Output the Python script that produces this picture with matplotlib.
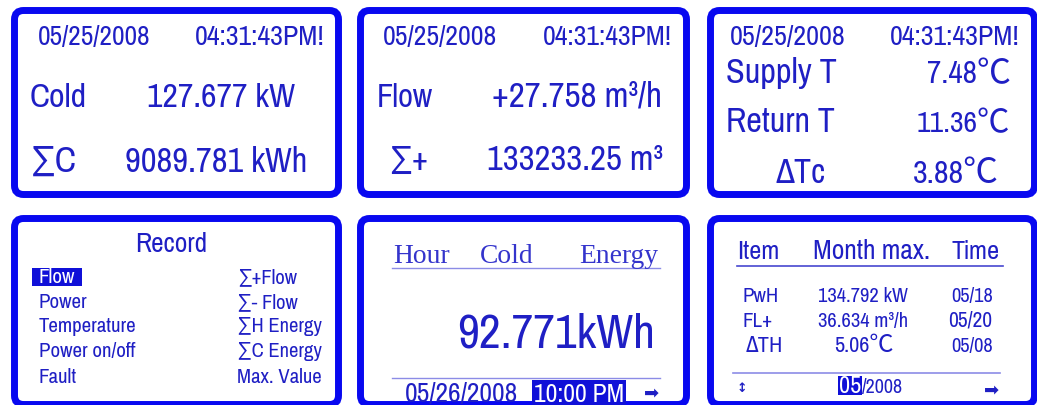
import matplotlib
matplotlib.use('Agg')
import matplotlib.pyplot as plt
from matplotlib.patches import FancyBboxPatch, Rectangle
from matplotlib import font_manager

# screen contents
stamp_date = '05/25/2008'
stamp_time = '04:31:43PM!'
p1_labels = ['Cold', '∑C']
p1_values = ['127.677 kW', '9089.781 kWh']
p2_labels = ['Flow', '∑+']
p2_values = ['+27.758 m³/h', '133233.25 m³']
p3_labels = ['Supply T', 'Return T', 'ΔTc']
p3_values = ['7.48℃', '11.36℃', '3.88℃']
record_title = 'Record'
record_left = ['Flow', 'Power', 'Temperature', 'Power on/off', 'Fault']
record_right = ['∑+Flow', '∑- Flow', '∑H Energy', '∑C Energy', 'Max. Value']
hour_head = ['Hour', 'Cold', 'Energy']
hour_value = '92.771kWh'
hour_date = '05/26/2008'
hour_time = '10:00 PM'
max_head = ['Item', 'Month max.', 'Time']
max_items = ['PwH', 'FL+', 'ΔTH']
max_values = ['134.792 kW', '36.634 m³/h', '5.06℃']
max_times = ['05/18', '05/20', '05/08']
max_month = '05'
max_year = '/2008'

BORDER = '#0808f0'
TEXT = '#1f1fc4'
LINE = '#8c8ce6'
HILITE = '#1010d8'

# narrow sans like the LCD font, if one is around
names = {f.name for f in font_manager.fontManager.ttflist}
sans_name = 'Liberation Sans'
for n in ['Liberation Sans Narrow', 'Arial Narrow', 'Pragati Narrow',
          'Roboto Condensed', 'Archivo Narrow', 'PT Sans Narrow']:
    if n in names:
        sans_name = n
        break
SANS = [sans_name, 'DejaVu Sans']
# degree-celsius sign: the CJK one is narrower than DejaVu's
DEG = [sans_name, 'Noto Sans CJK JP', 'DejaVu Sans']
SERIF = ['Liberation Serif', 'DejaVu Serif']

fig = plt.figure(figsize=(10.37, 4.05), dpi=100)
ax = fig.add_axes([0, 0, 1, 1])
ax.set_xlim(0, 1037)
ax.set_ylim(405, 0)
ax.axis('off')
r = fig.canvas.get_renderer()

cols = [(11, 342), (357, 690), (707, 1038)]
rows = [(7, 198), (215, 408)]
for (y0, y1) in rows:
    for (x0, x1) in cols:
        ax.add_patch(FancyBboxPatch((x0 + 3.5, y0 + 3.5), x1 - x0 - 7, y1 - y0 - 7,
                                    boxstyle='round,pad=0,rounding_size=9',
                                    lw=5, ec=BORDER, fc='white'))


def fitsize(s, x0, x1, family=SANS):
    t = ax.text(0, 0, s, family=family, fontsize=20)
    w = t.get_window_extent(r).width
    t.remove()
    return 20 * (x1 - x0) / w


def put(s, x0, x1, y, family=SANS, color=TEXT, size=None, part=None, **kw):
    # part: fit only this leading piece of the string into x0..x1
    if size is None:
        size = fitsize(part or s, x0, x1, family)
    return ax.text(x0, y, s, ha='left', va='baseline', family=family,
                   color=color, fontsize=size, **kw)


def num(s):
    return s.replace('℃', '')


# top row: date / time
for (d0, d1), (t0, t1) in [((38, 150), (195, 325)), ((383, 497), (543, 672)),
                           ((730, 845), (890, 1020))]:
    put(stamp_date, d0, d1, 45)
    put(stamp_time, t0, t1, 45)

# panel 1
put(p1_labels[0], 30, 87, 107)
put(p1_values[0], 147, 295, 107)
put(p1_labels[1], 30, 77, 172)
put(p1_values[1], 125, 307, 172)

# panel 2
put(p2_labels[0], 377, 433, 107)
put(p2_values[0], 492, 662, 107)
put(p2_labels[1], 388, 428, 170)
put(p2_values[1], 487, 662, 170)

# panel 3
for lab, val, (l0, l1), (v0, v1), y in zip(p3_labels, p3_values,
                                           [(726, 837), (726, 835), (775, 825)],
                                           [(927, 977), (917, 978), (913, 964)],
                                           [83, 132, 183]):
    put(lab, l0, l1, y)
    put(val, v0, v1, y, family=DEG, part=num(val))

# panel 4: record menu
put(record_title, 135, 207, 252)
base4 = [283, 308, 332, 357, 383]
sl = fitsize('Temperature', 39, 137)
sr = fitsize('∑H Energy', 237, 322)
ax.add_patch(Rectangle((32, 268), 50, 18, fc=HILITE, ec='none'))
for i, (a, b) in enumerate(zip(record_left, record_right)):
    put(a, 39, 0, base4[i], size=sl, color='white' if i == 0 else TEXT)
    put(b, 237, 0, base4[i], size=sr)

# panel 5: hourly energy
sh = fitsize('Energy', 579, 662, family=SERIF)
for s, x in zip(hour_head, [393, 480, 579]):
    put(s, x, 0, 263, family=SERIF, size=sh * 0.95, color='#3434cc')
ax.plot([392, 660], [268, 268], color=LINE, lw=1)
put(hour_value, 457, 655, 347)
ax.plot([392, 660], [378, 378], color=LINE, lw=1)
put(hour_date, 405, 518, 402)
ax.add_patch(Rectangle((532, 380), 94, 26, fc=HILITE, ec='none'))
put(hour_time, 534, 624, 402, color='white')
ax.text(652, 393, '➡', ha='center', va='center', fontsize=13, color=TEXT,
        family=['DejaVu Sans'])

# panel 6: month max
for s, (x0, x1) in zip(max_head, [(737, 779), (813, 930), (952, 1000)]):
    put(s, x0, x1, 259)
ax.plot([737, 1003], [266, 266], color='#4848d0', lw=1.2)
base6 = [302, 327, 352]
sv = fitsize(max_values[0], 818, 908)
for i in range(3):
    put(max_items[i], [743, 742, 746][i], [779, 772, 783][i], base6[i])
    put(max_values[i], [818, 818, 834][i], 0, base6[i], family=DEG,
        size=sv * [1, 1, 1.08][i])
    put(max_times[i], [951, 948, 951][i], [993, 992, 993][i], base6[i])
ax.plot([733, 1000], [373, 373], color=LINE, lw=1.2)
ax.text(742, 388, '↕', ha='center', va='center', fontsize=9, color=TEXT,
        family=['DejaVu Sans'], fontweight='bold')
ax.add_patch(Rectangle((838, 376), 24, 19, fc=HILITE, ec='none'))
put(max_month, 839, 861, 393, color='white')
put(max_year, 862, 903, 393)
ax.text(992, 390, '➡', ha='center', va='center', fontsize=13, color=TEXT,
        family=['DejaVu Sans'])

fig.savefig('out.png', dpi=100)
